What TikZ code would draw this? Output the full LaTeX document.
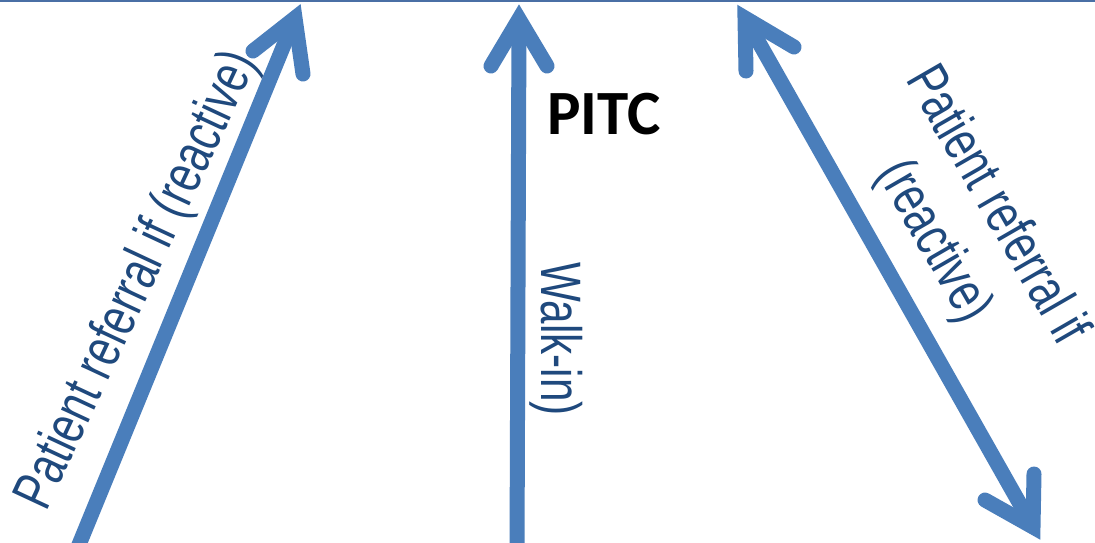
\documentclass[tikz,border=0pt]{standalone}
\usepackage{fontspec}
\setmainfont{Carlito}
\newfontfamily\condfont[FakeStretch=0.74]{Liberation Sans}
\definecolor{arrowblue}{HTML}{4A7EBB}
\definecolor{textblue}{HTML}{1F497D}
\definecolor{rulecol}{HTML}{4A6FA5}
\begin{document}
\begin{tikzpicture}[x=1pt,y=-1pt,
  shaft/.style={draw=arrowblue, line width=15pt},
  barb/.style={draw=arrowblue, line width=15pt, line cap=round, line join=miter},
  lbl/.style={text=textblue, font=\condfont\fontsize{57}{72}\selectfont, inner sep=0pt},
  titlelbl/.style={text=black, font=\bfseries\fontsize{63}{72}\selectfont, inner sep=0pt}]
\useasboundingbox (0,0) rectangle (1095,542);
\fill[white] (0,0) rectangle (1095,542);
% top rule
\coordinate (ruleL) at (0,1);
\coordinate (ruleR) at (1095,1);
\draw[rulecol, line width=1.5pt] (ruleL) -- (ruleR);
% left arrow
\coordinate (Ltail) at (76,552);
\coordinate (Ltip) at (295,18);
\coordinate (Lw1) at (253,51);
\coordinate (Lw2) at (303,74);
\draw[shaft] (Ltail) -- (Ltip);
\draw[barb] (Lw1) -- (Ltip) -- (Lw2);
% middle arrow
\coordinate (Mtail) at (517,552);
\coordinate (Mtip) at (519,19);
\coordinate (Mw1) at (491,66);
\coordinate (Mw2) at (547,66);
\draw[shaft] (Mtail) -- (Mtip);
\draw[barb] (Mw1) -- (Mtip) -- (Mw2);
% right double arrow
\coordinate (Rtop) at (745,18);
\coordinate (Rbot) at (1033,527);
\coordinate (Rt1) at (746,71);
\coordinate (Rt2) at (794,47);
\coordinate (Rb1) at (1034,474);
\coordinate (Rb2) at (985,500);
\draw[shaft] (Rtop) -- (Rbot);
\draw[barb] (Rt1) -- (Rtop) -- (Rt2);
\draw[barb] (Rb1) -- (Rbot) -- (Rb2);
% labels
\node[titlelbl, anchor=base] (pitc) at (604,134) {PITC};
\node[lbl, anchor=base, rotate=-90] (walk) at (541,339) {Walk-in)};
\node[lbl, anchor=base, rotate=65] (refL) at (152,287) {Patient referral if (reactive)};
\node[lbl, align=center, rotate=-60, anchor=center] (refR) at (964,224) {Patient referral if\\(reactive)};
\end{tikzpicture}
\end{document}
